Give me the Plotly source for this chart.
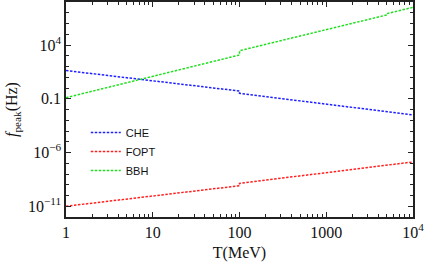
import plotly.graph_objects as go

# Temperature (MeV) sample points, with break points where the curves jump
T_che = [1, 100, 100, 10000]
f_che = [42.0, 0.52, 0.32, 0.0031]

T_fopt = [1, 100, 100, 10000]
f_fopt = [1.0e-11, 8.1e-10, 1.35e-9, 1.32e-7]

T_bbh = [1, 100, 100, 5000, 5000, 10000]
f_bbh = [0.126, 1175.0, 2950.0, 6.3e6, 8.3e6, 3.2e7]

x_tickvals = [1, 10, 100, 1000, 10000]
x_ticktext = ["1", "10", "100", "1000", "10<sup>4</sup>"]
y_tickvals = [1e-11, 1e-6, 0.1, 1e4]
y_ticktext = ["10<sup>\u221211</sup>", "10<sup>\u22126</sup>", "0.1", "10<sup>4</sup>"]

x_minor = [m * 10 ** d for d in range(0, 4) for m in range(2, 10)]
y_minor = [10.0 ** k for k in range(-12, 9)]

fig = go.Figure()
series = [("CHE", T_che, f_che, "#2020ff"),
          ("FOPT", T_fopt, f_fopt, "#ff2020"),
          ("BBH", T_bbh, f_bbh, "#20e020")]
for name, xs, ys, col in series:
    fig.add_trace(go.Scatter(x=xs, y=ys, mode="lines", name=name,
                             line=dict(color=col, width=1.5, dash="2.5px,1.5px")))

serif = "Liberation Serif, Times New Roman, serif"
axis_common = dict(type="log", showline=True, linecolor="#222", linewidth=1.5,
                   mirror="allticks", ticks="inside", tickcolor="#222",
                   ticklen=5, tickwidth=1, showgrid=False, zeroline=False,
                   tickmode="array", automargin=False,
                   tickfont=dict(family=serif, size=16, color="#111"))

fig.update_xaxes(**axis_common, range=[0, 4], tickvals=x_tickvals, ticktext=x_ticktext,
                 minor=dict(tickmode="array", tickvals=x_minor, ticks="inside",
                            ticklen=3, tickcolor="#222", tickwidth=1, showgrid=False),
                 title=dict(text="T(MeV)", font=dict(family=serif, size=16, color="#111"),
                            standoff=10))
fig.update_yaxes(**axis_common, range=[-12, 8], tickvals=y_tickvals, ticktext=y_ticktext,
                 minor=dict(tickmode="array", tickvals=y_minor, ticks="inside",
                            ticklen=3, tickcolor="#222", tickwidth=1, showgrid=False),
                 title=dict(text="<i>f</i><sub>peak</sub>(Hz)",
                            font=dict(family=serif, size=16, color="#111"), standoff=6))

fig.update_layout(width=425, height=262, margin=dict(l=66, r=12, t=2, b=45),
                  plot_bgcolor="white", paper_bgcolor="white",
                  legend=dict(x=0.057, y=0.46, xanchor="left", yanchor="top",
                              bgcolor="rgba(0,0,0,0)", tracegroupgap=0,
                              itemwidth=30,
                              font=dict(family="Liberation Sans, Arial, sans-serif",
                                        size=11, color="#111")))
fig.write_html("out.html", config={"displayModeBar": False},
               post_script="document.body.style.margin='0px';document.body.style.overflow='hidden';")
